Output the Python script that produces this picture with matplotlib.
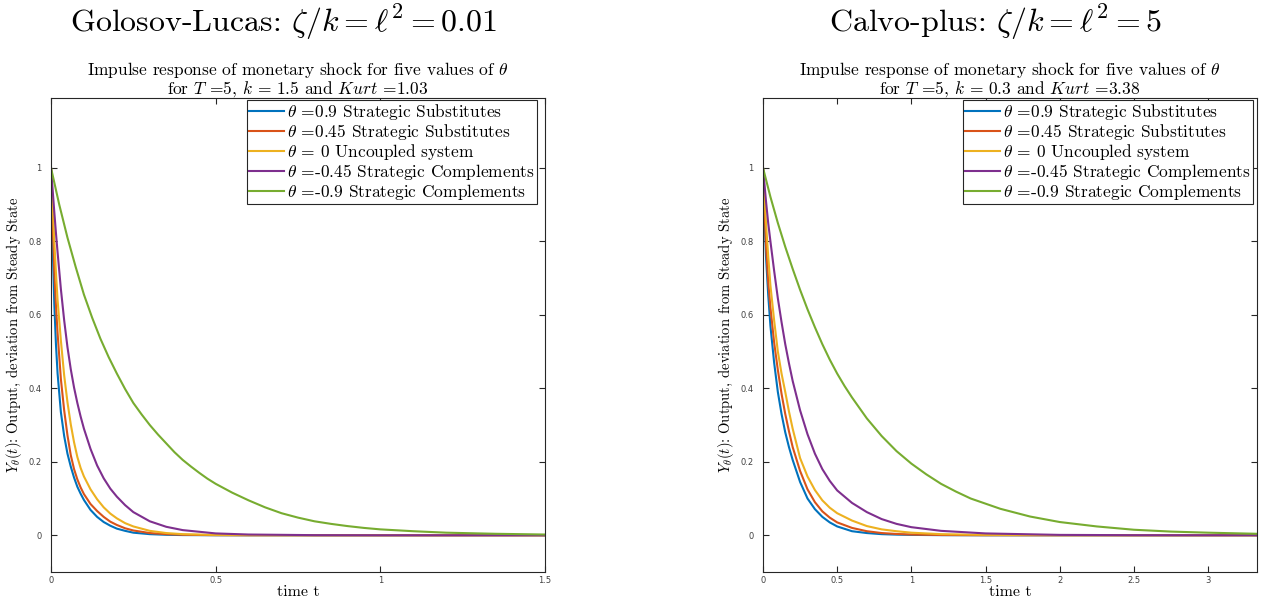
import matplotlib
matplotlib.use('Agg')
import matplotlib.pyplot as plt

plt.rcParams['font.family'] = ['cmr10', 'DejaVu Serif']
plt.rcParams['mathtext.fontset'] = 'cm'
plt.rcParams['axes.formatter.use_mathtext'] = True

# series labels and colours (MATLAB default order)
labels = [r'$\theta$ =0.9 Strategic Substitutes',
          r'$\theta$ =0.45 Strategic Substitutes',
          r'$\theta$ = 0 Uncoupled system',
          r'$\theta$ =-0.45 Strategic Complements',
          r'$\theta$ =-0.9 Strategic Complements']
colors = ['#0072BD', '#D95319', '#EDB120', '#7E2F8E', '#77AC30']

# ---- Golosov-Lucas panel ----
gl_t = [0, 0.005, 0.01, 0.015, 0.02, 0.03, 0.04, 0.05, 0.06, 0.07, 0.08, 0.09,
        0.10, 0.12, 0.14, 0.16, 0.18, 0.2, 0.225, 0.25, 0.3, 0.35, 0.4, 0.5,
        0.6, 0.8, 1.0, 1.5]
gl_blue = [1.0, 0.79, 0.63, 0.52, 0.44, 0.335, 0.27, 0.222, 0.187, 0.157, 0.132, 0.113,
           0.096, 0.069, 0.05, 0.036, 0.026, 0.018, 0.012, 0.007, 0.003, 0.0013, 0.0005, 0.0001,
           0, 0, 0, 0]
gl_red = [1.0, 0.85, 0.72, 0.625, 0.55, 0.425, 0.34, 0.272, 0.218, 0.18, 0.152, 0.13,
          0.112, 0.085, 0.066, 0.05, 0.037, 0.028, 0.019, 0.013, 0.006, 0.003, 0.0013, 0.0003,
          0.0001, 0, 0, 0]
gl_yellow = [1.0, 0.9, 0.8, 0.715, 0.64, 0.53, 0.435, 0.362, 0.302, 0.253, 0.213, 0.183,
             0.16, 0.125, 0.098, 0.076, 0.059, 0.046, 0.033, 0.024, 0.012, 0.006, 0.003, 0.0008,
             0.0002, 0, 0, 0]
gl_purple = [1.0, 0.94, 0.88, 0.823, 0.77, 0.67, 0.585, 0.512, 0.452, 0.402, 0.36, 0.323,
             0.29, 0.235, 0.19, 0.155, 0.127, 0.105, 0.082, 0.063, 0.038, 0.023, 0.014, 0.005,
             0.002, 0.0003, 0, 0]
gl_green_t = [0, 0.025, 0.05, 0.075, 0.1, 0.125, 0.15, 0.175, 0.2, 0.225, 0.25, 0.275,
              0.3, 0.325, 0.35, 0.375, 0.4, 0.425, 0.45, 0.475, 0.5, 0.55, 0.6, 0.65,
              0.7, 0.75, 0.8, 0.85, 0.9, 0.95, 1.0, 1.1, 1.2, 1.35, 1.5]
gl_green = [1.0, 0.90, 0.81, 0.73, 0.655, 0.592, 0.535, 0.485, 0.44, 0.398, 0.36, 0.329,
            0.30, 0.274, 0.25, 0.226, 0.205, 0.187, 0.17, 0.154, 0.14, 0.116, 0.095, 0.076,
            0.06, 0.048, 0.038, 0.031, 0.025, 0.02, 0.016, 0.011, 0.007, 0.004, 0.002]

# ---- Calvo-plus panel ----
cp_t = [0, 0.01, 0.02, 0.035, 0.05, 0.075, 0.1, 0.125, 0.15, 0.175, 0.2, 0.25,
        0.3, 0.35, 0.4, 0.45, 0.5, 0.6, 0.7, 0.8, 0.9, 1.0, 1.2, 1.5, 2.0, 2.5, 3.33]
cp_blue = [1.0, 0.87, 0.76, 0.655, 0.57, 0.47, 0.39, 0.33, 0.28, 0.24, 0.205, 0.145,
           0.10, 0.071, 0.05, 0.035, 0.024, 0.011, 0.006, 0.003, 0.0017, 0.001, 0.0003, 0,
           0, 0, 0]
cp_red = [1.0, 0.89, 0.79, 0.69, 0.62, 0.525, 0.45, 0.385, 0.33, 0.283, 0.24, 0.175,
          0.125, 0.09, 0.065, 0.048, 0.035, 0.02, 0.011, 0.006, 0.0035, 0.002, 0.0007, 0.0001,
          0, 0, 0]
cp_yellow = [1.0, 0.92, 0.85, 0.76, 0.68, 0.585, 0.50, 0.44, 0.39, 0.337, 0.29, 0.21,
             0.16, 0.123, 0.095, 0.075, 0.06, 0.04, 0.025, 0.016, 0.011, 0.007, 0.003, 0.001,
             0.0001, 0, 0]
cp_purple = [1.0, 0.955, 0.91, 0.85, 0.80, 0.72, 0.645, 0.58, 0.52, 0.468, 0.42, 0.34,
             0.275, 0.222, 0.18, 0.148, 0.122, 0.088, 0.063, 0.044, 0.031, 0.022, 0.012, 0.005,
             0.001, 0.0002, 0]
cp_green_t = [0, 0.05, 0.1, 0.15, 0.2, 0.25, 0.3, 0.35, 0.4, 0.45, 0.5, 0.55, 0.6,
              0.7, 0.8, 0.9, 1.0, 1.1, 1.2, 1.3, 1.4, 1.6, 1.8, 2.0, 2.25, 2.5, 2.75,
              3.0, 3.33]
cp_green = [1.0, 0.921, 0.85, 0.785, 0.725, 0.668, 0.615, 0.566, 0.52, 0.478, 0.44, 0.406,
            0.375, 0.318, 0.27, 0.229, 0.195, 0.166, 0.14, 0.119, 0.10, 0.072, 0.051, 0.036,
            0.024, 0.015, 0.01, 0.007, 0.004]

panels = [
    dict(head=r'Golosov-Lucas: $\zeta/k = \ell^2 = 0.01$',
         sub='Impulse response of monetary shock for five values of $\\theta$\n'
             'for $T$ =5, $k$ = 1.5 and $Kurt$ =1.03',
         t=gl_t, ys=[gl_blue, gl_red, gl_yellow, gl_purple], gt=gl_green_t, g=gl_green,
         xmax=1.5, xticks=[0, 0.5, 1, 1.5], left=51, lgap=8),
    dict(head=r'Calvo-plus: $\zeta/k = \ell^2 = 5$',
         sub='Impulse response of monetary shock for five values of $\\theta$\n'
             'for $T$ =5, $k$ = 0.3 and $Kurt$ =3.38',
         t=cp_t, ys=[cp_blue, cp_red, cp_yellow, cp_purple], gt=cp_green_t, g=cp_green,
         xmax=3.33, xticks=[0, 0.5, 1, 1.5, 2, 2.5, 3], left=763, lgap=4),
]

W, H = 1268, 600
fig = plt.figure(figsize=(W / 100, H / 100), dpi=100)

for p in panels:
    ax = fig.add_axes([p['left'] / W, 1 - 572 / H, 494 / W, 474 / H])
    for y, c, lab in zip(p['ys'], colors[:4], labels[:4]):
        ax.plot(p['t'], y, color=c, lw=1.5, label=lab)
    ax.plot(p['gt'], p['g'], color=colors[4], lw=1.5, label=labels[4])

    ax.set_xlim(0, p['xmax'])
    ax.set_ylim(-0.1, 1.19)
    ax.set_xticks(p['xticks'])
    ax.set_xticklabels([('%g' % v) for v in p['xticks']])
    ax.set_yticks([0, 0.2, 0.4, 0.6, 0.8, 1])
    ax.set_yticklabels(['0', '0.2', '0.4', '0.6', '0.8', '1'])
    ax.tick_params(direction='in', top=True, right=True, length=4, width=0.8,
                   labelsize=6, colors='#262626')
    ax.tick_params(axis='x', pad=3)
    ax.tick_params(axis='y', pad=7)
    for lab in ax.get_xticklabels() + ax.get_yticklabels():
        lab.set_family('DejaVu Sans')
        lab.set_color('#404040')
    for s in ax.spines.values():
        s.set_color('#262626')
        s.set_linewidth(0.8)

    ax.set_title(p['sub'], fontsize=12.5, pad=3, linespacing=0.95)
    ax.set_xlabel('time t', fontsize=11.5, labelpad=0)
    ax.set_ylabel(r'$Y_\theta(t)$: Output, deviation from Steady State', fontsize=10.5,
                  labelpad=3)

    leg = ax.legend(loc='upper right', bbox_to_anchor=(1 - p['lgap'] / 494, 1 - 2 / 474),
                    fontsize=12.5, handlelength=2.0, handletextpad=0.2, borderpad=0.12,
                    labelspacing=0.0, borderaxespad=0, fancybox=False, framealpha=1)
    leg.get_frame().set_edgecolor('#262626')
    leg.get_frame().set_linewidth(0.8)

    cx = (p['left'] + 232) / W
    fig.text(cx, 1 - 22 / H, p['head'], ha='center', va='center', fontsize=23)

fig.savefig('out.png', dpi=100)
